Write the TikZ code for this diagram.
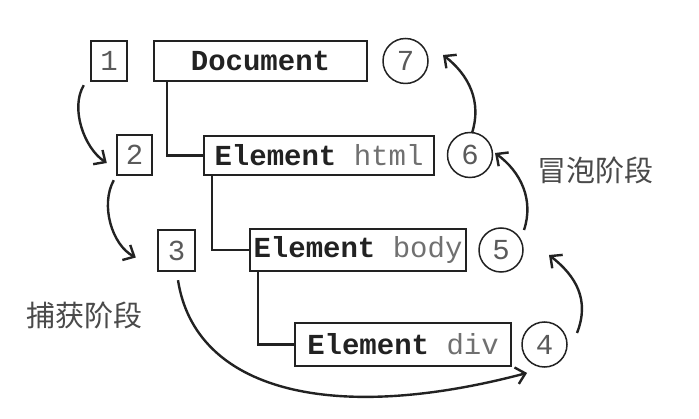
\documentclass[tikz,border=0pt]{standalone}
\usepackage{fontspec}
\setmonofont{Liberation Mono}
\newfontfamily\cjk{Noto Sans CJK SC}
\usetikzlibrary{calc,arrows.meta}
\definecolor{ink}{HTML}{222222}
\definecolor{numgray}{HTML}{5A5A5A}
\definecolor{tagray}{HTML}{707070}
\definecolor{cjkgray}{HTML}{4A4A4A}
\newcommand{\bigmono}{\fontsize{29pt}{30pt}\selectfont\ttfamily}
\newcommand{\tg}[1]{\textcolor{tagray}{#1}}
\begin{document}
\begin{tikzpicture}[x=1pt,y=-1pt,
  sq/.style={draw=ink, line width=2.4pt, minimum width=36pt, minimum height=40pt, inner sep=0pt, font=\bigmono, text=numgray},
  tbox/.style={draw=ink, line width=1.6pt, minimum height=40pt, inner sep=0pt, font=\bigmono, text=ink},
  circ/.style={draw=ink, circle, line width=1.5pt, minimum size=45pt, inner sep=0pt, font=\bigmono, text=numgray},
  tree/.style={draw=ink, line width=2.2pt},
  flow/.style={draw=ink, line width=2.4pt, -{Straight Barb[length=9pt,width=17pt,line width=2.4pt]}},
  phase/.style={font=\fontsize{29pt}{30pt}\selectfont\cjk, text=cjkgray, inner sep=0pt}]
\useasboundingbox (0,0) rectangle (699,419);
\fill[white] (0,0) rectangle (699,419);
% nodes
\node[sq] (b1) at (109,61) {1};
\node[tbox, minimum width=213pt] (doc) at (260.5,61) {\textbf{Document}};
\node[circ] (c7) at (405.5,61) {7};
\node[sq, minimum width=35pt] (b2) at (134.5,155) {2};
\node[tbox, minimum width=230pt, minimum height=39pt] (html) at (319,155.5) {\textbf{Element} \tg{html}};
\node[circ] (c6) at (470,155) {6};
\node[sq, minimum width=37pt, minimum height=41pt] (b3) at (176.5,250.5) {3};
\node[tbox, minimum width=216pt, minimum height=42pt] (body) at (358,250) {\textbf{Element} \tg{body}};
\node[circ, minimum size=44pt] (c5) at (501,250) {5};
\node[tbox, minimum width=216pt, minimum height=43pt] (div) at (403,344.5) {\textbf{Element} \tg{div}};
\node[circ] (c4) at (544.5,344.5) {4};
\node[phase] (cap) at (85,315) {捕获阶段};
\node[phase] (bub) at (595,170) {冒泡阶段};
% tree
\draw[tree] ($(doc.south west)+(14,0)$) |- (html.west);
\draw[tree] ($(html.south west)+(9,0)$) |- (body.west);
\draw[tree] ($(body.south west)+(9,0)$) |- (div.west);
% capture flow
\draw[flow] ($(b1.south west)+(-6,3)$) .. controls (70,108) and (84,148) .. ($(b2.west)+(-9,8)$);
\draw[flow] ($(b2.south west)+(-2,4)$) .. controls (100,205) and (112,245) .. ($(b3.west)+(-21,7)$);
\draw[flow] ($(b3.south)+(1.5,8)$) .. controls (195,390) and (330,425) .. ($(c4.south west)+(-1,12)$);
% bubble flow
\draw[flow] ($(c4)+(32.5,-11.5)$) .. controls (590,300) and (576,276) .. ($(c5)+(48,5)$);
\draw[flow] ($(c5)+(23,-20)$) .. controls (534,200) and (521,172) .. ($(c6)+(25,-2)$);
\draw[flow] ($(c6)+(2,-22)$) .. controls (482,102) and (469,75) .. ($(c7)+(37.5,-6)$);
\end{tikzpicture}
\end{document}
